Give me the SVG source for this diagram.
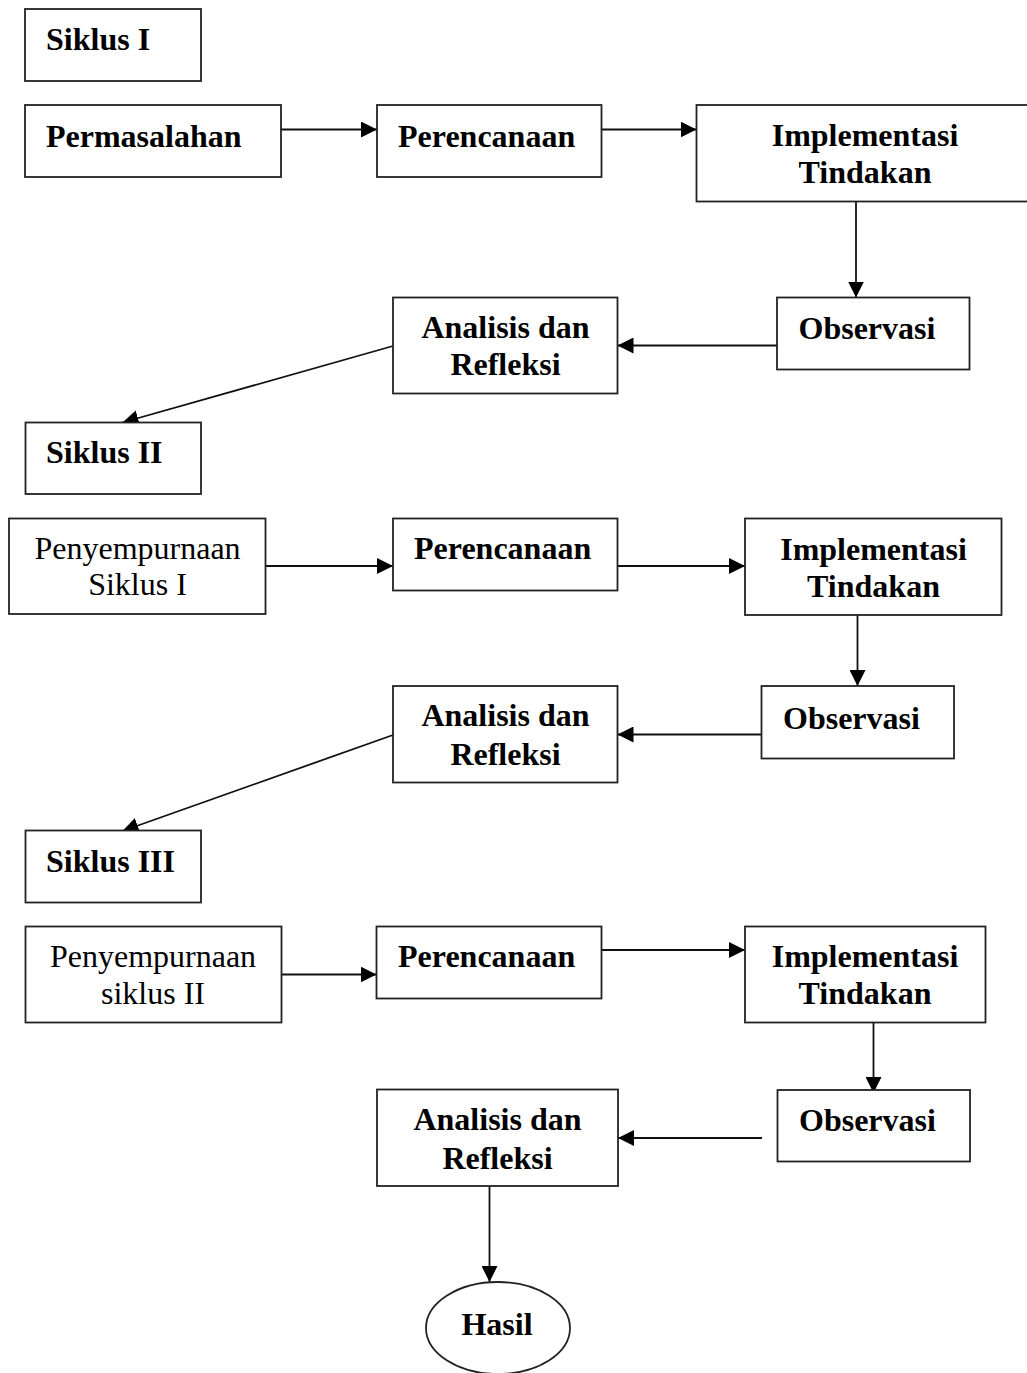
<svg xmlns="http://www.w3.org/2000/svg" width="1027" height="1373" viewBox="0 0 1027 1373">
<defs>
<style>
.box{fill:#fff;stroke:#222;stroke-width:1.8}
.ln{fill:none;stroke:#111;stroke-width:1.8;marker-end:url(#ah)}
.b{font-family:"Liberation Serif","Times New Roman",serif;font-weight:bold;font-size:32px;fill:#000}
.r{font-family:"Liberation Serif","Times New Roman",serif;font-size:32px;fill:#000}
.m{text-anchor:middle}
</style>
<marker id="ah" markerUnits="userSpaceOnUse" markerWidth="16" markerHeight="16" refX="16" refY="8" orient="auto">
<path d="M0,0 L16,8 L0,16 Z" fill="#000"/>
</marker>
</defs>
<rect width="1027" height="1373" fill="#fff"/>

<g id="connectors">
<line class="ln" x1="281" y1="129.5" x2="377" y2="129.5"/>
<line class="ln" x1="601.5" y1="129.5" x2="696.5" y2="129.5"/>
<line class="ln" x1="856" y1="202" x2="856" y2="297.5"/>
<line class="ln" x1="777" y1="345.5" x2="617.5" y2="345.5"/>
<line class="ln" x1="393" y1="346" x2="122.5" y2="422.5"/>
<line class="ln" x1="265.5" y1="566" x2="393" y2="566"/>
<line class="ln" x1="617.5" y1="566" x2="745" y2="566"/>
<line class="ln" x1="857.5" y1="615" x2="857.5" y2="686"/>
<line class="ln" x1="761.5" y1="734.5" x2="617.5" y2="734.5"/>
<line class="ln" x1="393" y1="735" x2="122.5" y2="831"/>
<line class="ln" x1="281.5" y1="974.5" x2="376.5" y2="974.5"/>
<line class="ln" x1="601.5" y1="950" x2="745" y2="950"/>
<line class="ln" x1="873.5" y1="1022.5" x2="873.5" y2="1093"/>
<line class="ln" x1="762" y1="1138" x2="618" y2="1138"/>
<line class="ln" x1="489.5" y1="1186" x2="489.5" y2="1282"/>
</g>

<g id="siklus1"><rect class="box" x="25" y="9" width="176" height="72"/><text class="b" x="46" y="50">Siklus I</text></g>
<g id="permasalahan"><rect class="box" x="25" y="105" width="256" height="72"/><text class="b" x="46" y="147">Permasalahan</text></g>
<g id="perencanaan1"><rect class="box" x="377" y="105" width="224.5" height="72"/><text class="b" x="398" y="147">Perencanaan</text></g>
<g id="implementasi1"><rect class="box" x="696.5" y="105" width="340" height="96.5"/><text class="b m" x="865" y="146">Implementasi</text><text class="b m" x="865" y="183">Tindakan</text></g>
<g id="observasi1"><rect class="box" x="777" y="297.5" width="192.5" height="72"/><text class="b" x="798.5" y="338.5">Observasi</text></g>
<g id="analisis1"><rect class="box" x="393" y="297.5" width="224.5" height="96"/><text class="b m" x="505.5" y="337.5">Analisis dan</text><text class="b m" x="505.5" y="374.5">Refleksi</text></g>

<g id="siklus2"><rect class="box" x="25.5" y="422.5" width="175.5" height="71.5"/><text class="b" x="46" y="462.5">Siklus II</text></g>
<g id="penyempurnaan1"><rect class="box" x="9" y="518.5" width="256.5" height="95.5"/><text class="r m" x="137.5" y="558.5">Penyempurnaan</text><text class="r m" x="137.5" y="595">Siklus I</text></g>
<g id="perencanaan2"><rect class="box" x="393" y="518.5" width="224.5" height="72"/><text class="b" x="414" y="558.5">Perencanaan</text></g>
<g id="implementasi2"><rect class="box" x="745" y="518.5" width="256.5" height="96.5"/><text class="b m" x="873.5" y="559.5">Implementasi</text><text class="b m" x="873.5" y="597">Tindakan</text></g>
<g id="observasi2"><rect class="box" x="761.5" y="686" width="192.5" height="72.5"/><text class="b" x="783" y="728.5">Observasi</text></g>
<g id="analisis2"><rect class="box" x="393" y="686" width="224.5" height="96.5"/><text class="b m" x="505.5" y="726">Analisis dan</text><text class="b m" x="505.5" y="764.5">Refleksi</text></g>

<g id="siklus3"><rect class="box" x="25.5" y="830.5" width="175.5" height="72"/><text class="b" x="46" y="872">Siklus III</text></g>
<g id="penyempurnaan2"><rect class="box" x="25.5" y="926.5" width="256" height="96"/><text class="r m" x="153" y="967">Penyempurnaan</text><text class="r m" x="153" y="1003.5">siklus II</text></g>
<g id="perencanaan3"><rect class="box" x="376.5" y="926.5" width="225" height="72"/><text class="b" x="398" y="967">Perencanaan</text></g>
<g id="implementasi3"><rect class="box" x="745" y="926.5" width="240.5" height="96"/><text class="b m" x="865" y="967">Implementasi</text><text class="b m" x="865" y="1004">Tindakan</text></g>
<g id="observasi3"><rect class="box" x="777.5" y="1090" width="192.5" height="71.5"/><text class="b" x="799" y="1131">Observasi</text></g>
<g id="analisis3"><rect class="box" x="377" y="1089.5" width="241" height="96.5"/><text class="b m" x="497.5" y="1130">Analisis dan</text><text class="b m" x="497.5" y="1168.5">Refleksi</text></g>
<g id="hasil"><ellipse class="box" cx="498" cy="1328" rx="72" ry="46"/><text class="b m" x="497" y="1335">Hasil</text></g>
</svg>
